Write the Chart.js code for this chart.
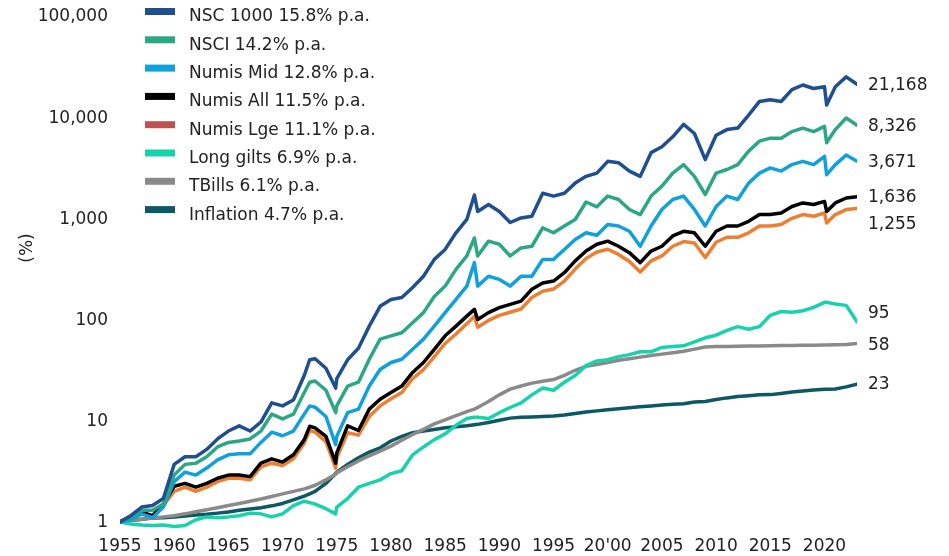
<!DOCTYPE html>
<html>
<head>
<meta charset="utf-8">
<title>Long-run index returns</title>
<script src="https://cdn.jsdelivr.net/npm/chart.js@4.4.1/dist/chart.umd.min.js"></script>
<style>
  html, body { margin: 0; padding: 0; background: #ffffff; }
  #wrap { width: 949px; height: 556px; }
</style>
</head>
<body>
<div id="wrap"><canvas id="returnsChart" width="949" height="556"></canvas></div>
<script>
// Dates (decimal years) - yearly, plus a few turning points
const dates = [
  1955, 1956, 1957, 1958, 1959, 1960, 1961, 1962, 1963, 1964, 1965, 1966, 1967, 1968, 1969, 1970, 1971, 1972, 1972.5, 1973,
  1974, 1974.9, 1975, 1976, 1977, 1978, 1979, 1980, 1981, 1982, 1983, 1984, 1985, 1986, 1987, 1987.7, 1988, 1989, 1990, 1991,
  1992, 1993, 1994, 1995, 1996, 1997, 1998, 1999, 2000, 2001, 2002, 2003, 2004, 2005, 2006, 2007, 2008, 2009, 2010, 2011,
  2012, 2013, 2014, 2015, 2016, 2017, 2018, 2019, 2020, 2020.2, 2021, 2022, 2023
];

const nsc1000 = [
  1.0, 1.15, 1.4, 1.45, 1.7, 3.7, 4.4, 4.4, 5.2, 6.6, 7.9, 8.9, 7.9, 9.7, 15, 14, 16, 28, 40, 41,
  33, 21, 26, 40, 52, 86, 135, 158, 165, 207, 268, 393, 493, 720, 975, 1700, 1170, 1370, 1170, 910,
  1010, 1050, 1770, 1660, 1770, 2230, 2600, 2800, 3660, 3550, 2930, 2600, 4460, 5100, 6400, 8500, 6900, 3810, 6630, 7540,
  7800, 10500, 14300, 14900, 14300, 18700, 20800, 19200, 20000, 13200, 20000, 25000, 21168
];

const nsci = [
  1.0, 1.1, 1.3, 1.3, 1.5, 2.9, 3.7, 3.8, 4.4, 5.5, 6.1, 6.3, 6.6, 7.9, 11.6, 10.4, 11.6, 19, 24, 24.7,
  20, 12, 14, 22, 24, 40.5, 64, 69, 74, 93, 117, 169, 214, 313, 425, 640, 425, 595, 555, 425,
  510, 530, 805, 720, 840, 975, 1450, 1300, 1660, 1536, 1224, 1090, 1660, 2080, 2800, 3400, 2600, 1720, 2800, 3040,
  3400, 4620, 5800, 6200, 6200, 7200, 7800, 7200, 8100, 5600, 7540, 9800, 8326
];

const numisMid = [
  1.0, 1.05, 1.2, 1.1, 1.4, 2.5, 3.1, 2.9, 3.4, 4.1, 4.6, 4.7, 4.7, 6.1, 7.7, 7.1, 7.9, 11.6, 14, 13.6,
  11, 5.8, 7, 12, 13, 22, 32, 37.6, 40.5, 50.8, 64, 86, 117, 158, 214, 365, 214, 268, 249, 214,
  268, 268, 393, 393, 493, 619, 720, 680, 870, 840, 745, 530, 840, 1224, 1536, 1660, 1224, 840, 1310, 1660,
  1536, 2230, 2800, 3150, 2930, 3400, 3660, 3400, 4100, 2700, 3400, 4220, 3671
];

const numisAll = [
  1.0, 1.1, 1.25, 1.15, 1.5, 2.25, 2.4, 2.2, 2.4, 2.7, 2.9, 2.9, 2.8, 3.8, 4.2, 3.9, 4.6, 6.5, 8.8, 8.5,
  7.0, 3.8, 4.8, 8.9, 8.0, 13, 16.3, 19, 22, 30, 37.6, 50.8, 69, 86, 108, 126, 100, 117, 131, 141,
  152, 199, 230, 240, 290, 380, 475, 555, 595, 530, 458, 365, 475, 530, 670, 745, 720, 530, 745, 840,
  840, 935, 1090, 1090, 1130, 1310, 1420, 1370, 1470, 1170, 1420, 1590, 1636
];

const numisLge = [
  1.0, 1.15, 1.25, 1.1, 1.45, 2.0, 2.2, 2.0, 2.2, 2.5, 2.7, 2.7, 2.6, 3.5, 3.8, 3.6, 4.2, 6.0, 8.0, 7.7,
  6.2, 3.4, 4.3, 7.6, 7.2, 11, 14, 16.5, 19, 26, 32, 43, 58, 72, 91, 108, 84, 98, 110, 118,
  127, 165, 190, 200, 240, 315, 400, 465, 495, 440, 375, 295, 380, 425, 530, 590, 570, 410, 580, 650,
  650, 720, 840, 840, 870, 1000, 1090, 1050, 1130, 900, 1090, 1220, 1255
];

const longGilts = [
  1.0, 0.95, 0.93, 0.92, 0.93, 0.9, 0.92, 1.05, 1.12, 1.1, 1.12, 1.15, 1.22, 1.2, 1.12, 1.2, 1.45, 1.6, 1.55, 1.5,
  1.35, 1.2, 1.4, 1.7, 2.2, 2.4, 2.6, 3.0, 3.2, 4.6, 5.5, 6.5, 7.4, 9.0, 10.5, 10.8, 10.8, 10.5, 12, 13.5,
  15, 18, 21, 20, 24, 28, 35, 39, 40, 43, 45, 48, 48, 53, 54, 55, 60, 66, 70, 78,
  85, 80, 85, 110, 120, 118, 122, 132, 148, 148, 142, 138, 95
];

const tBills = [
  1.0, 1.03, 1.06, 1.1, 1.12, 1.15, 1.2, 1.26, 1.32, 1.38, 1.45, 1.52, 1.6, 1.68, 1.78, 1.89, 2.0, 2.12, 2.2, 2.3,
  2.6, 2.95, 3.05, 3.5, 4.0, 4.5, 5.0, 5.6, 6.4, 7.3, 8.2, 9.3, 10.2, 11.2, 12.3, 13.0, 13.5, 15.5, 18, 20.5,
  22, 23.5, 24.5, 25.5, 28, 31.5, 34.5, 36, 37.5, 39.5, 41, 42.5, 44, 45.5, 47, 48.5, 51, 53.5, 54, 54.2,
  54.4, 54.6, 54.8, 55, 55.2, 55.4, 55.6, 55.8, 56, 56, 56.2, 56.6, 58
];

const inflation = [
  1.0, 1.03, 1.06, 1.09, 1.1, 1.12, 1.14, 1.17, 1.19, 1.22, 1.25, 1.3, 1.34, 1.38, 1.44, 1.52, 1.65, 1.8, 1.89, 2.0,
  2.4, 3.0, 3.1, 3.7, 4.3, 4.9, 5.4, 6.3, 7.0, 7.6, 7.9, 8.2, 8.5, 8.7, 8.9, 9.1, 9.2, 9.6, 10.1, 10.6,
  10.8, 10.9, 11.0, 11.1, 11.4, 11.8, 12.2, 12.5, 12.8, 13.1, 13.4, 13.7, 14.0, 14.3, 14.5, 14.7, 15.3, 15.5, 16.2, 16.8,
  17.3, 17.6, 18.0, 18.1, 18.6, 19.2, 19.7, 20.1, 20.4, 20.4, 20.6, 21.6, 23
];

const seriesNames = [
  "NSC 1000 15.8% p.a.",
  "NSCI 14.2% p.a.",
  "Numis Mid 12.8% p.a.",
  "Numis All 11.5% p.a.",
  "Numis Lge 11.1% p.a.",
  "Long gilts 6.9% p.a.",
  "TBills 6.1% p.a.",
  "Inflation 4.7% p.a."
];
const seriesValues = [nsc1000, nsci, numisMid, numisAll, numisLge, longGilts, tBills, inflation];

const xTickYears = [1955, 1960, 1965, 1970, 1975, 1980, 1985, 1990, 1995, 2000, 2005, 2010, 2015, 2020];
const yTickValues = [1, 10, 100, 1000, 10000, 100000];

// Styles
const lineColors = ["#1f4e91", "#2ba784", "#10a0dc", "#000000", "#ee7f32", "#17d3ab", "#8a8a8a", "#0d5863"];
const legendColors = ["#1f4e91", "#2ba784", "#10a0dc", "#000000", "#c0504d", "#17d3ab", "#8a8a8a", "#0d5863"];
const endLabelShift = [0, 0, 0, 0, 15, -9, 1, -1]; // keep 1,255 / 95 clear of neighbours
const FONT_FAMILY = "'DejaVu Sans', sans-serif";
const FONT_SIZE = 17;
const TEXT_COLOR = "#222222";
const TEXT_DY = 1; // middle baseline sits a touch high

function fmt(v) {
  return Math.round(v).toLocaleString("en-US");
}

// Legend stacked in the top-left of the plot, y-axis labels and unit
const sideLegend = {
  id: "sideLegend",
  afterDraw(chart) {
    const ctx = chart.ctx;
    const yScale = chart.scales.y;
    ctx.save();
    ctx.font = `${FONT_SIZE}px ${FONT_FAMILY}`;
    ctx.textBaseline = "middle";
    ctx.textAlign = "left";
    seriesNames.forEach((name, i) => {
      const y = 16 + i * 28.3;
      ctx.fillStyle = legendColors[i];
      ctx.fillRect(145, y - 8, 30, 7);
      ctx.fillStyle = TEXT_COLOR;
      ctx.fillText(name, 189, y + TEXT_DY);
    });

    // y tick labels, right-aligned against the plot
    ctx.textAlign = "right";
    yTickValues.forEach((v) => {
      ctx.fillText(fmt(v), chart.chartArea.left - 12, yScale.getPixelForValue(v) + TEXT_DY);
    });

    // y-axis unit, rotated
    ctx.translate(28, 248);
    ctx.rotate(-Math.PI / 2);
    ctx.textAlign = "center";
    ctx.fillText("(%)", 0, 0);
    ctx.restore();
  }
};

// Final values written after the end of each line
const endLabels = {
  id: "endLabels",
  afterDatasetsDraw(chart) {
    const ctx = chart.ctx;
    ctx.save();
    ctx.font = `${FONT_SIZE}px ${FONT_FAMILY}`;
    ctx.textBaseline = "middle";
    ctx.textAlign = "left";
    ctx.fillStyle = TEXT_COLOR;
    chart.data.datasets.forEach((ds, i) => {
      const meta = chart.getDatasetMeta(i);
      const pt = meta.data[meta.data.length - 1];
      const last = seriesValues[i][seriesValues[i].length - 1];
      ctx.fillText(fmt(last), pt.x + 11, pt.y + endLabelShift[i] + TEXT_DY);
    });
    ctx.restore();
  }
};

function buildDatasets() {
  return seriesValues.map((vals, i) => ({
    label: seriesNames[i],
    data: vals.map((v, j) => ({ x: dates[j], y: v })),
    borderColor: lineColors[i],
    backgroundColor: legendColors[i],
    borderWidth: 3.5,
    borderJoinStyle: "round",
    borderCapStyle: "round",
    pointRadius: 0,
    tension: 0,
    fill: false
  }));
}

document.addEventListener("DOMContentLoaded", () => {
  const ctx = document.getElementById("returnsChart");
  new Chart(ctx, {
    type: "line",
    data: { datasets: buildDatasets() },
    options: {
      responsive: false,
      devicePixelRatio: 1,
      animation: false,
      layout: { padding: { left: 0, right: 92, top: 16, bottom: 0 } },
      plugins: {
        legend: { display: false },
        tooltip: { enabled: false }
      },
      scales: {
        x: {
          type: "linear",
          min: 1955,
          max: 2023,
          grid: { display: false, drawTicks: false },
          border: { display: false },
          afterBuildTicks: (s) => { s.ticks = xTickYears.map(v => ({ value: v })); },
          afterFit: (s) => { s.height = 27; },
          ticks: {
            autoSkip: false,
            maxRotation: 0,
            padding: 7,
            color: TEXT_COLOR,
            font: { family: FONT_FAMILY, size: FONT_SIZE },
            callback: (v) => (v === 2000 ? "20'00" : String(v))
          }
        },
        y: {
          type: "logarithmic",
          min: 0.85,
          max: 100000,
          grid: { display: false, drawTicks: false },
          border: { display: false },
          afterFit: (s) => { s.width = 120; },
          ticks: { display: false }
        }
      }
    },
    plugins: [sideLegend, endLabels]
  });
});
</script>
</body>
</html>
